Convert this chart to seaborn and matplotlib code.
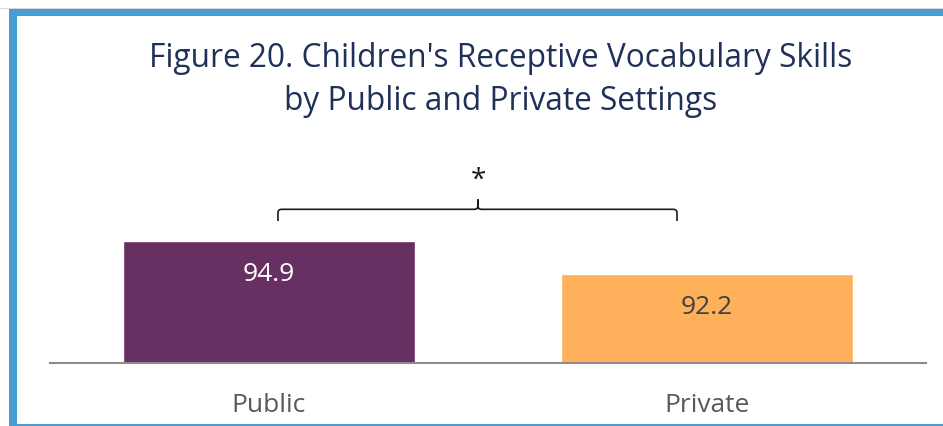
import matplotlib
matplotlib.use("Agg")
import matplotlib.pyplot as plt
import seaborn as sns
import pandas as pd
from matplotlib.path import Path
from matplotlib.patches import PathPatch, Rectangle

categories = ["Public", "Private"]
values = [94.9, 92.2]
value_labels = ["94.9", "92.2"]
title = "Figure 20. Children's Receptive Vocabulary Skills\nby Public and Private Settings"

sns.set_theme(style="white")
plt.rcParams["font.family"] = ["Open Sans", "DejaVu Sans"]

df = pd.DataFrame({"setting": categories, "score": values})
colors = ["#672F62", "#FFB05A"]

fig = plt.figure(figsize=(9.43, 4.27), dpi=100)
ax = fig.add_axes([50/943, 1-364/427, 876/943, (364-155)/427])
sns.barplot(data=df, x="setting", y="score", hue="setting", palette=colors,
            legend=False, width=0.668, saturation=1, ax=ax)
ax.set_ylim(85, 102)
ax.set_xlim(-0.5, 1.5)
for s in ["top", "right", "left"]:
    ax.spines[s].set_visible(False)
ax.spines["bottom"].set_color("#8C8C8C")
ax.spines["bottom"].set_linewidth(1.5)
ax.set_yticks([])
ax.set_xlabel("")
ax.set_ylabel("")
ax.tick_params(axis="x", length=0, pad=21, labelsize=19, labelcolor="#595959")

label_colors = ["white", "#404040"]
for i, (v, lab) in enumerate(zip(values, value_labels)):
    ax.text(i, v - 2.6, lab, ha="center", va="center", fontsize=19,
            color=label_colors[i])

# significance brace
x0, x1, xc = 0.0205, 0.9315, 0.477
yb, ym, yt = 96.55, 97.5, 98.3
rx, ry = 0.008, 0.3
verts = [(x0, yb), (x0, ym - ry), (x0, ym), (x0 + rx, ym),
         (xc - rx, ym), (xc, ym), (xc, ym + ry), (xc, yt),
         (xc, yt), (xc, ym + ry), (xc, ym), (xc + rx, ym),
         (x1 - rx, ym), (x1, ym), (x1, ym - ry), (x1, yb)]
codes = [Path.MOVETO, Path.LINETO, Path.CURVE3, Path.CURVE3,
         Path.LINETO, Path.CURVE3, Path.CURVE3, Path.LINETO,
         Path.MOVETO, Path.LINETO, Path.CURVE3, Path.CURVE3,
         Path.LINETO, Path.CURVE3, Path.CURVE3, Path.LINETO]
ax.add_patch(PathPatch(Path(verts, codes), fill=False, edgecolor="#1a1a1a",
                       linewidth=1.2, clip_on=False))
ax.text(xc, 99.9, "*", ha="center", va="center", fontsize=20, color="#1a1a1a",
        clip_on=False)

fig.text(501/943, 1-80/427, title, ha="center", va="center", fontsize=22.8,
         color="#1F3158", linespacing=1.42)

# frame
blue = "#4A9DD4"
fig.add_artist(Rectangle((0, 1-10/427), 1, 1/427, transform=fig.transFigure,
                         color="#D9D9D9", lw=0))
fig.add_artist(Rectangle((9/943, 1-17/427), 1, 7/427, transform=fig.transFigure,
                         color=blue, lw=0))
fig.add_artist(Rectangle((9/943, 0), 8/943, 1-10/427, transform=fig.transFigure,
                         color=blue, lw=0))
fig.add_artist(Rectangle((9/943, 0), 1, 2/427, transform=fig.transFigure,
                         color=blue, lw=0))

fig.savefig("out.png", dpi=100)
